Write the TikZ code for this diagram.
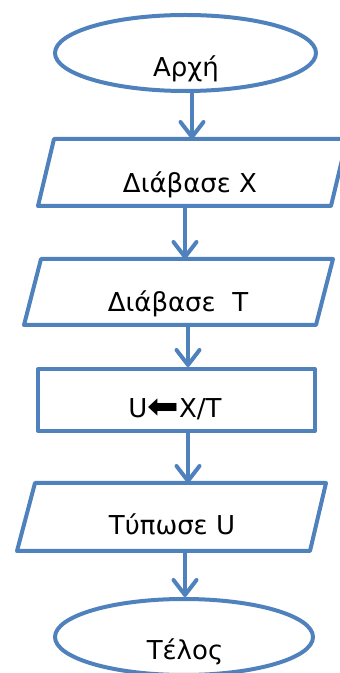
\documentclass[tikz,border=0pt]{standalone}
\usepackage{fontspec}
\setmainfont{DejaVu Sans}
\usetikzlibrary{arrows.meta,shapes.geometric}
\definecolor{fc}{RGB}{79,129,189}
\begin{document}
\begin{tikzpicture}[x=1pt,y=1pt,
  shapeline/.style={draw=fc, line width=4pt, line join=round},
  txt/.style={font=\fontsize{26}{30}\selectfont, inner sep=0pt, anchor=base},
  arr/.style={draw=fc, line width=4pt, -{Straight Barb[length=15pt,width=23pt,line cap=round,line join=round]}}]
\useasboundingbox (0,0) rectangle (340,673);
% start ellipse
\node[ellipse, shapeline, minimum width=261pt, minimum height=76pt, inner sep=0pt] (start) at (185.5,620) {};
\node[txt] (tstart) at (186,596) {Αρχή};
% parallelogram 1
\coordinate (p1bl) at (38,467); \coordinate (p1tl) at (54,534);
\coordinate (p1tr) at (347,534); \coordinate (p1br) at (331,467);
\draw[shapeline] (p1bl) -- (p1tl) -- (p1tr) -- (p1br) -- cycle;
\coordinate (p1in) at (192,534); \coordinate (p1out) at (185,467);
\node[txt] (t1) at (190,480) {Διάβασε X};
% parallelogram 2
\coordinate (p2bl) at (24,348); \coordinate (p2tl) at (41,414);
\coordinate (p2tr) at (333,414); \coordinate (p2br) at (316,348);
\draw[shapeline] (p2bl) -- (p2tl) -- (p2tr) -- (p2br) -- cycle;
\coordinate (p2in) at (185,414); \coordinate (p2out) at (188,348);
\node[txt] (t2) at (178,361) {Διάβασε\ \ T};
% rectangle
\node[rectangle, shapeline, minimum width=277pt, minimum height=62pt, inner sep=0pt] (calc) at (176.5,273) {};
\node[txt] (t3) at (175,255) {U\raisebox{-1pt}{\scalebox{1.45}[1.35]{⬅}}X/T};
% parallelogram 3
\coordinate (p3bl) at (17,122); \coordinate (p3tl) at (35,190);
\coordinate (p3tr) at (326,190); \coordinate (p3br) at (310,122);
\draw[shapeline] (p3bl) -- (p3tl) -- (p3tr) -- (p3br) -- cycle;
\coordinate (p3in) at (188,190); \coordinate (p3out) at (185,122);
\node[txt] (t4) at (172,138) {Τύπωσε U};
% end ellipse
\node[ellipse, shapeline, minimum width=258pt, minimum height=76pt, inner sep=0pt] (stop) at (184,36) {};
\node[txt] (tstop) at (185,13) {Τέλος};
% connectors
\draw[arr] (start.south -| p1in) -- (p1in);
\draw[arr] (p1out) -- (p2in);
\draw[arr] (p2out) -- (calc.north -| p2out);
\draw[arr] (calc.south -| p3in) -- (p3in);
\draw[arr] (p3out) -- (stop.north -| p3out);
\end{tikzpicture}
\end{document}
